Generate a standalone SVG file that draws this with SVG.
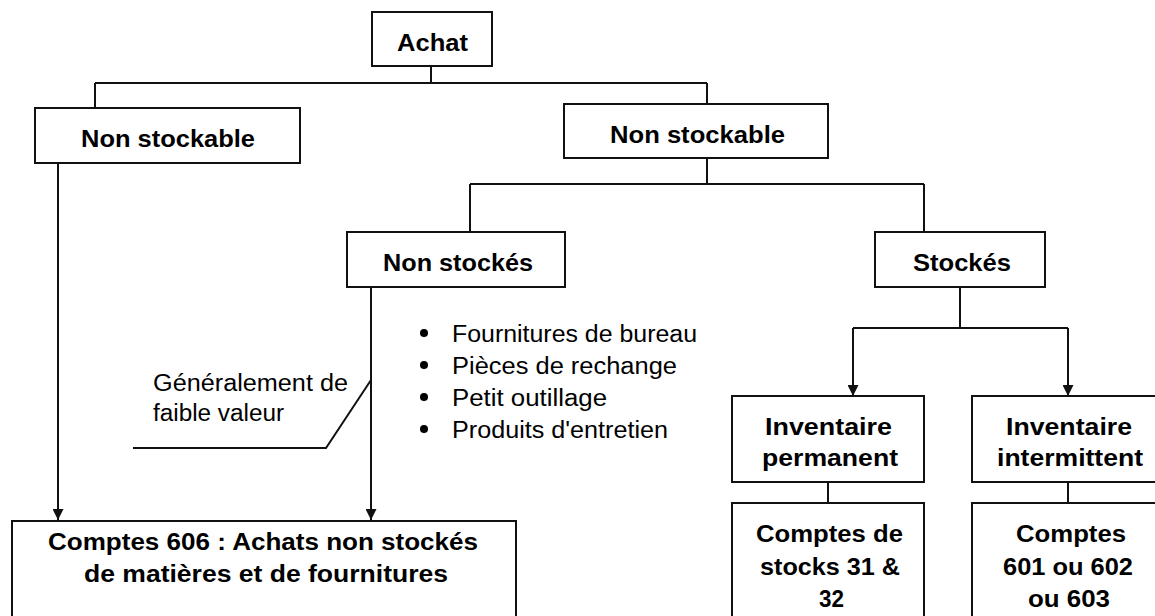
<svg xmlns="http://www.w3.org/2000/svg" width="1155" height="616" viewBox="0 0 1155 616">
<defs>
<style>
.box{fill:#fff;stroke:#111;stroke-width:2}
.ln{fill:none;stroke:#111;stroke-width:2}
.b{font-family:"Liberation Sans",Arial,sans-serif;font-weight:bold;font-size:23px;fill:#000}
.r{font-family:"Liberation Sans",Arial,sans-serif;font-size:23px;fill:#000}
</style>
<marker id="arr" viewBox="0 0 10 10" refX="10" refY="5" markerWidth="6" markerHeight="5.5" markerUnits="strokeWidth" orient="auto">
<path d="M0,0 L10,5 L0,10 Z" fill="#111"/>
</marker>
</defs>
<rect width="1155" height="616" fill="#fff"/>
<g id="connectors">
<path class="ln" d="M431,66 V83 M95,83 H707 M95,83 V108 M707,83 V104"/>
<path class="ln" d="M707,158 V184 M470,184 H924 M470,184 V232 M924,184 V232"/>
<path class="ln" d="M960,287 V328 M853,328 H1068"/>
<path class="ln" d="M853,328 V396" marker-end="url(#arr)"/>
<path class="ln" d="M1068,328 V396" marker-end="url(#arr)"/>
<path class="ln" d="M828,482 V503 M1068,482 V503"/>
<path class="ln" d="M58,163 V520" marker-end="url(#arr)"/>
<path class="ln" d="M371,287 V520" marker-end="url(#arr)"/>
<polyline class="ln" points="133,448 326,448 371,380" stroke-width="1.5"/>
</g>
<g id="achat">
<rect class="box" x="372" y="12" width="120" height="54"/>
<text class="b" x="397" y="51" textLength="71" lengthAdjust="spacingAndGlyphs">Achat</text>
</g>
<g id="non-stockable-left">
<rect class="box" x="35" y="108" width="265" height="55"/>
<text class="b" x="81" y="147" textLength="174" lengthAdjust="spacingAndGlyphs">Non stockable</text>
</g>
<g id="non-stockable-right">
<rect class="box" x="564" y="104" width="264" height="54"/>
<text class="b" x="610" y="143" textLength="175" lengthAdjust="spacingAndGlyphs">Non stockable</text>
</g>
<g id="non-stockes">
<rect class="box" x="347" y="232" width="218" height="55"/>
<text class="b" x="383" y="271" textLength="150" lengthAdjust="spacingAndGlyphs">Non stockés</text>
</g>
<g id="stockes">
<rect class="box" x="875" y="232" width="170" height="55"/>
<text class="b" x="913" y="271" textLength="98" lengthAdjust="spacingAndGlyphs">Stockés</text>
</g>
<g id="liste">
<circle cx="424" cy="333" r="4" fill="#000"/>
<circle cx="424" cy="365" r="4" fill="#000"/>
<circle cx="424" cy="397" r="4" fill="#000"/>
<circle cx="424" cy="429" r="4" fill="#000"/>
<text class="r" x="452" y="342" textLength="245" lengthAdjust="spacingAndGlyphs">Fournitures de bureau</text>
<text class="r" x="452" y="374" textLength="225" lengthAdjust="spacingAndGlyphs">Pièces de rechange</text>
<text class="r" x="452" y="406" textLength="155" lengthAdjust="spacingAndGlyphs">Petit outillage</text>
<text class="r" x="452" y="438" textLength="216" lengthAdjust="spacingAndGlyphs">Produits d'entretien</text>
</g>
<g id="note">
<text class="r" x="153" y="391" textLength="195" lengthAdjust="spacingAndGlyphs">Généralement de</text>
<text class="r" x="153" y="421" textLength="131" lengthAdjust="spacingAndGlyphs">faible valeur</text>
</g>
<g id="inv-permanent">
<rect class="box" x="732" y="396" width="192" height="86"/>
<text class="b" x="765" y="435" textLength="127" lengthAdjust="spacingAndGlyphs">Inventaire</text>
<text class="b" x="762" y="466" textLength="136" lengthAdjust="spacingAndGlyphs">permanent</text>
</g>
<g id="inv-intermittent">
<rect class="box" x="972" y="396" width="200" height="86"/>
<text class="b" x="1006" y="435" textLength="126" lengthAdjust="spacingAndGlyphs">Inventaire</text>
<text class="b" x="997" y="466" textLength="146" lengthAdjust="spacingAndGlyphs">intermittent</text>
</g>
<g id="comptes-stocks">
<rect class="box" x="732" y="503" width="192" height="130"/>
<text class="b" x="756" y="542" textLength="147" lengthAdjust="spacingAndGlyphs">Comptes de</text>
<text class="b" x="760" y="575" textLength="140" lengthAdjust="spacingAndGlyphs">stocks 31 &amp;</text>
<text class="b" x="819" y="607" textLength="25" lengthAdjust="spacingAndGlyphs">32</text>
</g>
<g id="comptes-60x">
<rect class="box" x="972" y="503" width="200" height="130"/>
<text class="b" x="1016" y="542" textLength="110" lengthAdjust="spacingAndGlyphs">Comptes</text>
<text class="b" x="1003" y="575" textLength="130" lengthAdjust="spacingAndGlyphs">601 ou 602</text>
<text class="b" x="1028" y="607" textLength="82" lengthAdjust="spacingAndGlyphs">ou 603</text>
</g>
<g id="comptes-606">
<rect class="box" x="12" y="521" width="504" height="110"/>
<text class="b" x="48" y="550" textLength="430" lengthAdjust="spacingAndGlyphs">Comptes 606 : Achats non stockés</text>
<text class="b" x="84" y="582" textLength="364" lengthAdjust="spacingAndGlyphs">de matières et de fournitures</text>
</g>
</svg>
